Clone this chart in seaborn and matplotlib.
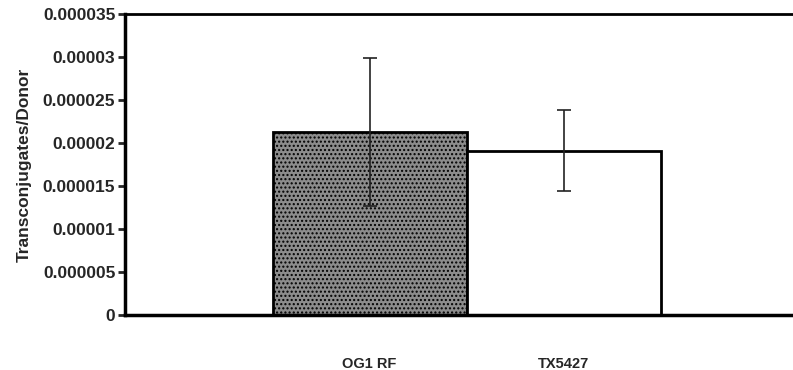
import matplotlib
matplotlib.use("Agg")
import matplotlib.pyplot as plt
import seaborn as sns
import pandas as pd

strains = ["OG1RF", "TX5427"]
tick_labels = ["OG1 RF", "TX5427"]
means = [0.0000213, 0.0000191]
errors = [0.0000086, 0.0000047]
y_ticks = [0, 0.000005, 0.00001, 0.000015, 0.00002, 0.000025, 0.00003, 0.000035]
y_tick_labels = ["0", "0.000005", "0.00001", "0.000015", "0.00002", "0.000025", "0.00003", "0.000035"]
bar_colors = ["#8c8c8c", "#ffffff"]

sns.set_style("white")
plt.rcParams["font.family"] = ["Liberation Sans", "DejaVu Sans"]
plt.rcParams["hatch.color"] = "#b0b0b0"

df = pd.DataFrame({"strain": strains, "value": means})

fig = plt.figure(figsize=(7.93, 3.70), dpi=100)
ax = fig.add_axes([0.1576, 0.1486, 0.8424, 0.8135])

sns.barplot(data=df, x="strain", y="value", hue="strain", palette=bar_colors,
            width=1.0, edgecolor="black", linewidth=2, legend=False, ax=ax,
            errorbar=None)
ax.patches[0].set_hatch("....")
ax.patches[0].set_edgecolor("black")

ax.errorbar([0, 1], means, yerr=errors, fmt="none", ecolor="#222222",
            elinewidth=1.2, capsize=5, capthick=1.2, zorder=5)

ax.set_xlim(-1.26, 2.18)
ax.set_ylim(0, 0.000035)
ax.set_yticks(y_ticks)
ax.set_yticklabels(y_tick_labels, fontsize=12.5, fontweight="bold")
ax.set_xticks([0, 1])
ax.set_xticklabels(tick_labels, fontsize=10.5, fontweight="bold")
ax.tick_params(axis="x", length=0, pad=30)
ax.tick_params(axis="y", left=True, length=5, width=2, direction="out", pad=2)
ax.set_xlabel("")
ax.set_ylabel("Transconjugates/Donor", fontsize=12.5, fontweight="bold", labelpad=8)

for side in ["left", "bottom"]:
    ax.spines[side].set_linewidth(2.5)
    ax.spines[side].set_color("black")
ax.spines["top"].set_linewidth(2)
ax.spines["top"].set_color("black")
ax.spines["right"].set_visible(False)

fig.savefig("out.png", dpi=100)
